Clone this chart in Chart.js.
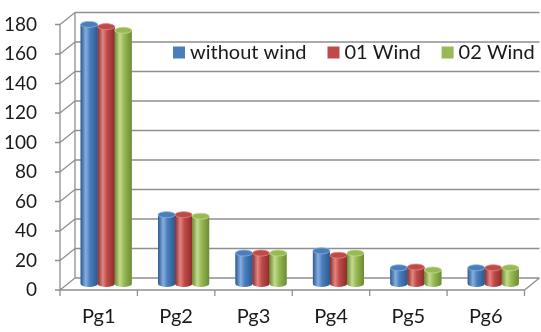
<!DOCTYPE html>
<html><head><meta charset="utf-8">
<script src="https://cdn.jsdelivr.net/npm/chart.js@4.4.1/dist/chart.umd.min.js"></script>
<style>html,body{margin:0;padding:0;background:#fff}#wrap{width:541px;height:332px;position:relative}</style>
</head><body><div id="wrap"><canvas id="c"></canvas></div>
<script>
const categories = ['Pg1', 'Pg2', 'Pg3', 'Pg4', 'Pg5', 'Pg6'];
const withoutWind = [176, 47, 21, 22.5, 11, 11];
const wind01 = [174.5, 47, 21, 19.5, 11.5, 11];
const wind02 = [172, 46, 21, 21, 9.5, 11];
const seriesLabels = ['without wind', '01 Wind', '02 Wind'];
const yMin = 0, yMax = 180, yStep = 20;

const palette = [
  {base: '#4A7EBB', dark: '#2B5A90', light: '#86AEE0'},
  {base: '#BE4B48', dark: '#8C2D2B', light: '#E08683'},
  {base: '#98B954', dark: '#6C8C33', light: '#C3DA8E'}
];
const DX = 7.5, DY = 6;
const GRID = '#8f8f8f';
const FONT = 'Lato, "Open Sans", sans-serif';

const frame3d = {
  id: 'frame3d',
  beforeDatasetsDraw(chart) {
    const ctx = chart.ctx, ys = chart.scales.y, ca = chart.chartArea;
    ctx.save();
    ctx.strokeStyle = GRID; ctx.lineWidth = 1.3;
    const y0 = ys.getPixelForValue(yMin), yT = ys.getPixelForValue(yMax);
    ctx.beginPath();
    for (let v = yMin; v <= yMax; v += yStep) {
      const ym = ys.getPixelForValue(v);
      ctx.moveTo(ca.left + DX, ym - DY); ctx.lineTo(ca.right + DX, ym - DY);
      ctx.moveTo(ca.left - DX, ym + DY); ctx.lineTo(ca.left + DX, ym - DY);
      ctx.moveTo(ca.left - DX - 5, ym + DY); ctx.lineTo(ca.left - DX, ym + DY);
    }
    ctx.moveTo(ca.left + DX, yT - DY); ctx.lineTo(ca.left + DX, y0 - DY);
    ctx.moveTo(ca.left - DX, yT + DY); ctx.lineTo(ca.left - DX, y0 + DY);
    ctx.moveTo(ca.left - DX, y0 + DY); ctx.lineTo(ca.right - DX, y0 + DY);
    ctx.lineTo(ca.right + DX, y0 - DY);
    const n = categories.length, cw = (ca.right - ca.left) / n;
    for (let i = 0; i <= n; i++) {
      const x = ca.left + i * cw - DX;
      ctx.moveTo(x, y0 + DY); ctx.lineTo(x, y0 + DY + 6);
    }
    ctx.stroke();
    ctx.restore();
  },
  afterDatasetsDraw(chart) {
    const ctx = chart.ctx;
    ctx.save();
    chart.data.datasets.forEach((ds, di) => {
      const meta = chart.getDatasetMeta(di);
      const p = palette[di];
      meta.data.forEach(el => {
        const {x, y, width, base} = el.getProps(['x', 'y', 'width', 'base'], true);
        const l = x - width / 2, r = x + width / 2, rx = width / 2, ry = 3;
        const g = ctx.createLinearGradient(l, 0, r, 0);
        g.addColorStop(0, p.dark);
        g.addColorStop(0.3, p.light);
        g.addColorStop(0.55, p.base);
        g.addColorStop(1, p.dark);
        ctx.fillStyle = g;
        ctx.beginPath();
        ctx.moveTo(l, y);
        ctx.lineTo(l, base);
        ctx.ellipse(x, base, rx, ry, 0, Math.PI, 0, true);
        ctx.lineTo(r, y);
        ctx.closePath();
        ctx.fill();
        ctx.fillStyle = p.base;
        ctx.beginPath();
        ctx.ellipse(x, y, rx, ry, 0, 0, Math.PI * 2);
        ctx.fill();
        ctx.strokeStyle = p.light; ctx.lineWidth = 0.8;
        ctx.stroke();
      });
    });
    ctx.restore();
  },
  afterDraw(chart) {
    const ctx = chart.ctx;
    ctx.save();
    ctx.font = '20px ' + FONT;
    ctx.textBaseline = 'middle';
    let x = 173; const yc = 52.5;
    chart.data.datasets.forEach((ds, di) => {
      ctx.fillStyle = palette[di].base;
      ctx.fillRect(x, yc - 6, 12, 12);
      x += 17;
      ctx.fillStyle = '#1a1a1a';
      ctx.fillText(ds.label, x, yc);
      x += ctx.measureText(ds.label).width + 21;
    });
    ctx.restore();
  }
};

new Chart(document.getElementById('c'), {
  type: 'bar',
  data: {
    labels: categories,
    datasets: [
      {label: seriesLabels[0], data: withoutWind, backgroundColor: palette[0].base},
      {label: seriesLabels[1], data: wind01, backgroundColor: palette[1].base},
      {label: seriesLabels[2], data: wind02, backgroundColor: palette[2].base}
    ]
  },
  options: {
    responsive: true,
    maintainAspectRatio: false,
    animation: false,
    layout: {padding: {top: 18.5, right: 9, left: 0, bottom: 0}},
    datasets: {bar: {categoryPercentage: 0.66, barPercentage: 1.0, borderWidth: 0}},
    plugins: {legend: {display: false}, tooltip: {enabled: false}},
    scales: {
      x: {
        grid: {display: false, drawTicks: false},
        border: {display: false},
        ticks: {font: {family: FONT, size: 20}, color: '#1a1a1a', padding: 21, labelOffset: -7.5, maxRotation: 0},
        afterFit(s) { s.height = 48; s.paddingLeft = 0; s.paddingRight = 0; }
      },
      y: {
        min: yMin, max: yMax,
        grid: {display: false, drawTicks: false},
        border: {display: false},
        ticks: {stepSize: yStep, font: {family: FONT, size: 19}, color: '#1a1a1a', padding: 30.5, labelOffset: 6},
        afterFit(s) { s.width = 67.5; s.paddingTop = 0; s.paddingBottom = 0; }
      }
    }
  },
  plugins: [frame3d]
});
</script>
</body></html>
